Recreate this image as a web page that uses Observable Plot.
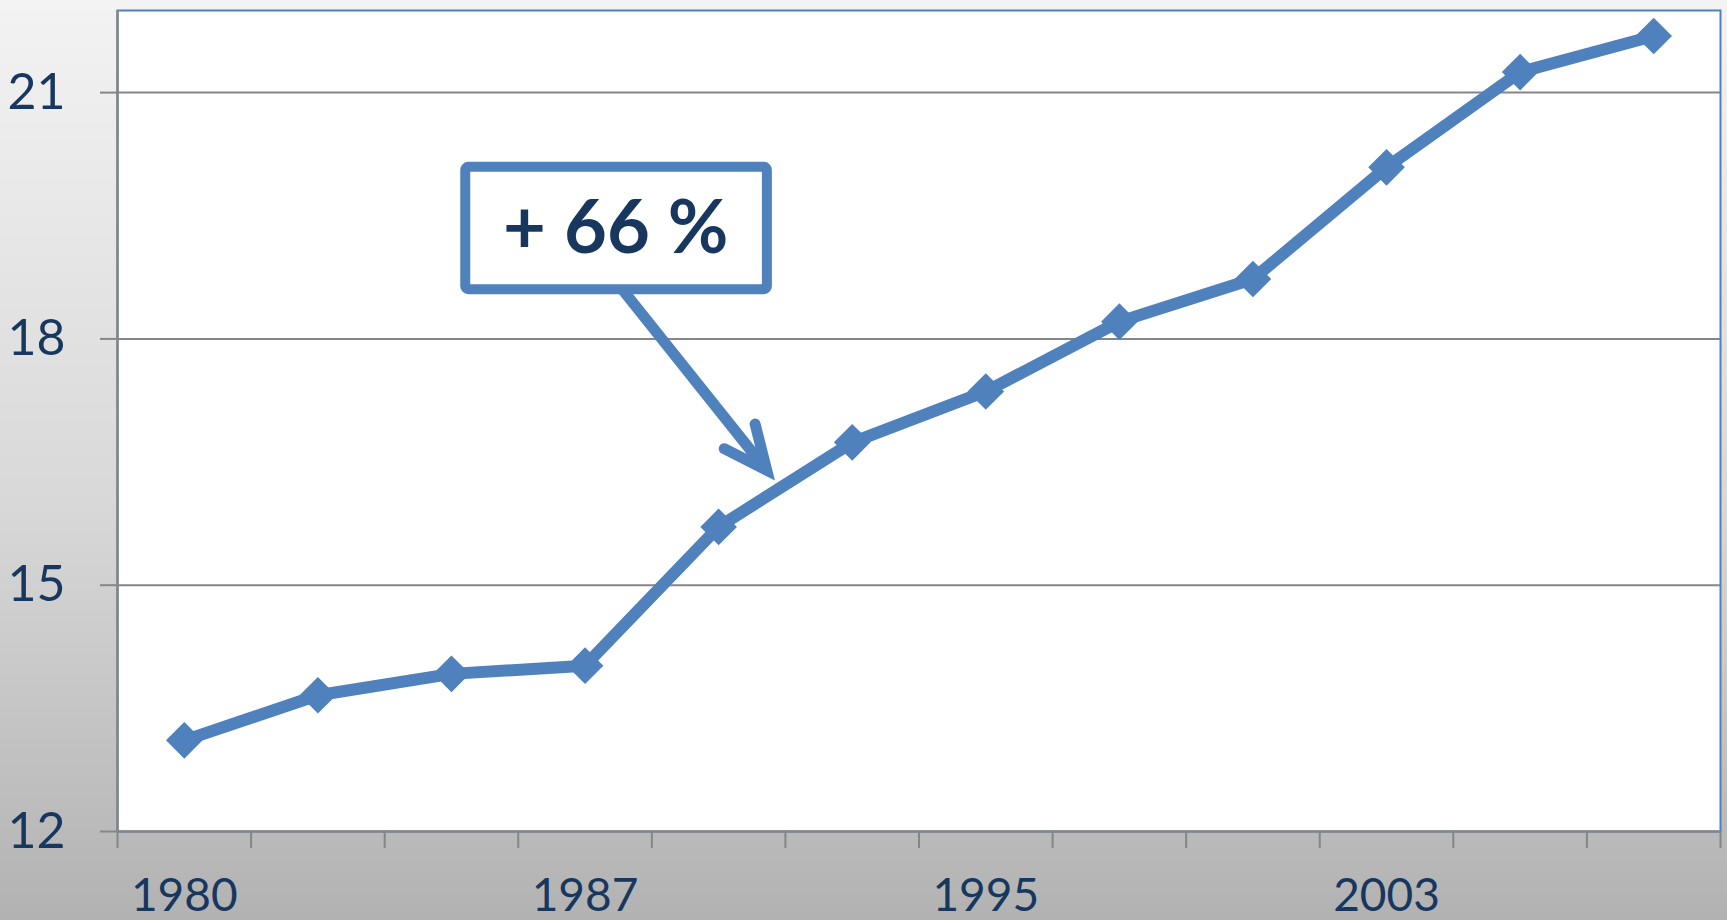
<!DOCTYPE html>
<html><head><meta charset="utf-8">
<script src="https://cdn.jsdelivr.net/npm/d3@7"></script>
<script src="https://cdn.jsdelivr.net/npm/@observablehq/plot@0.6"></script>
<style>
html,body{margin:0;padding:0;}
body{width:1727px;height:920px;overflow:hidden;background:#d0d0d0;}
</style></head><body><div id="chart"></div>
<script>
// category tick labels (only every third category is labelled in the source)
const categoryLabels = ["1980","","","1987","","","1995","","","2003","",""];
const labelledIndex = [0, 3, 6, 9];
const values = [13.11, 13.66, 13.92, 14.02, 15.71, 16.74, 17.36, 18.21, 18.73, 20.09, 21.25, 21.69];
const yTicks = [12, 15, 18, 21];
const gridValues = [15, 18, 21];
const boundaryTicks = [-0.5, 0.5, 1.5, 2.5, 3.5, 4.5, 5.5, 6.5, 7.5, 8.5, 9.5, 10.5, 11.5];
// annotation (data coordinates: category index, value)
const annotationLabel = ["+ 66 %"];
const annotationBox = [{x1: 2.107, x2: 4.365, y1: 18.60, y2: 20.09}];
const annotationText = [{x: 3.23, y: 19.34}];
const annotationArrow = [{x1: 3.28, y1: 18.60, x2: 4.36, y2: 16.40}];

const blue = "#4f81bd";
const gray = "#868686";
const navy = "#17375e";
const data = values.map((v, i) => ({i, v}));

const plot = Plot.plot({
  width: 1727,
  height: 920,
  marginLeft: 117,
  marginRight: 7,
  marginTop: 10,
  marginBottom: 89,
  style: {
    background: "linear-gradient(#f3f3f3 0%, #d8d8d8 55%, #b2b2b2 100%)",
    fontFamily: "Lato, 'Open Sans', sans-serif",
    fontSize: "50px",
    color: navy
  },
  x: {type: "linear", domain: [-0.5, 11.5], axis: null},
  y: {domain: [12, 22], axis: null},
  marks: [
    Plot.frame({fill: "white", stroke: blue, strokeWidth: 2}),
    Plot.ruleY(gridValues, {stroke: gray, strokeWidth: 2}),
    Plot.ruleX([-0.5], {stroke: gray, strokeWidth: 2.5}),
    Plot.ruleY([12], {stroke: gray, strokeWidth: 2.5}),
    Plot.axisY({ticks: yTicks, tickSize: 17, tickPadding: 35, stroke: gray, strokeWidth: 2, fill: navy, fontSize: 50}),
    Plot.axisX({ticks: boundaryTicks, tickSize: 17, tickFormat: () => "", stroke: gray, strokeWidth: 2}),
    Plot.axisX({ticks: labelledIndex, tickSize: 0, tickPadding: 47, tickFormat: i => categoryLabels[i], stroke: "none", fill: navy, fontSize: 46}),
    Plot.line(data, {x: "i", y: "v", stroke: blue, strokeWidth: 12}),
    Plot.dot(data, {x: "i", y: "v", symbol: "diamond2", r: 16.5, fill: blue}),
    Plot.arrow(annotationArrow, {x1: "x1", y1: "y1", x2: "x2", y2: "y2", stroke: blue, strokeWidth: 11, headLength: 6.5, headAngle: 49, strokeLinejoin: "miter", strokeMiterlimit: 10, strokeLinecap: "round"}),
    Plot.rect(annotationBox, {x1: "x1", x2: "x2", y1: "y1", y2: "y2", fill: "white", stroke: blue, strokeWidth: 10, rx: 3}),
    Plot.text(annotationText, {x: "x", y: "y", text: () => annotationLabel[0], fill: navy, fontSize: 74, fontWeight: "bold"})
  ]
});
document.getElementById("chart").appendChild(plot);
</script>
</body></html>
